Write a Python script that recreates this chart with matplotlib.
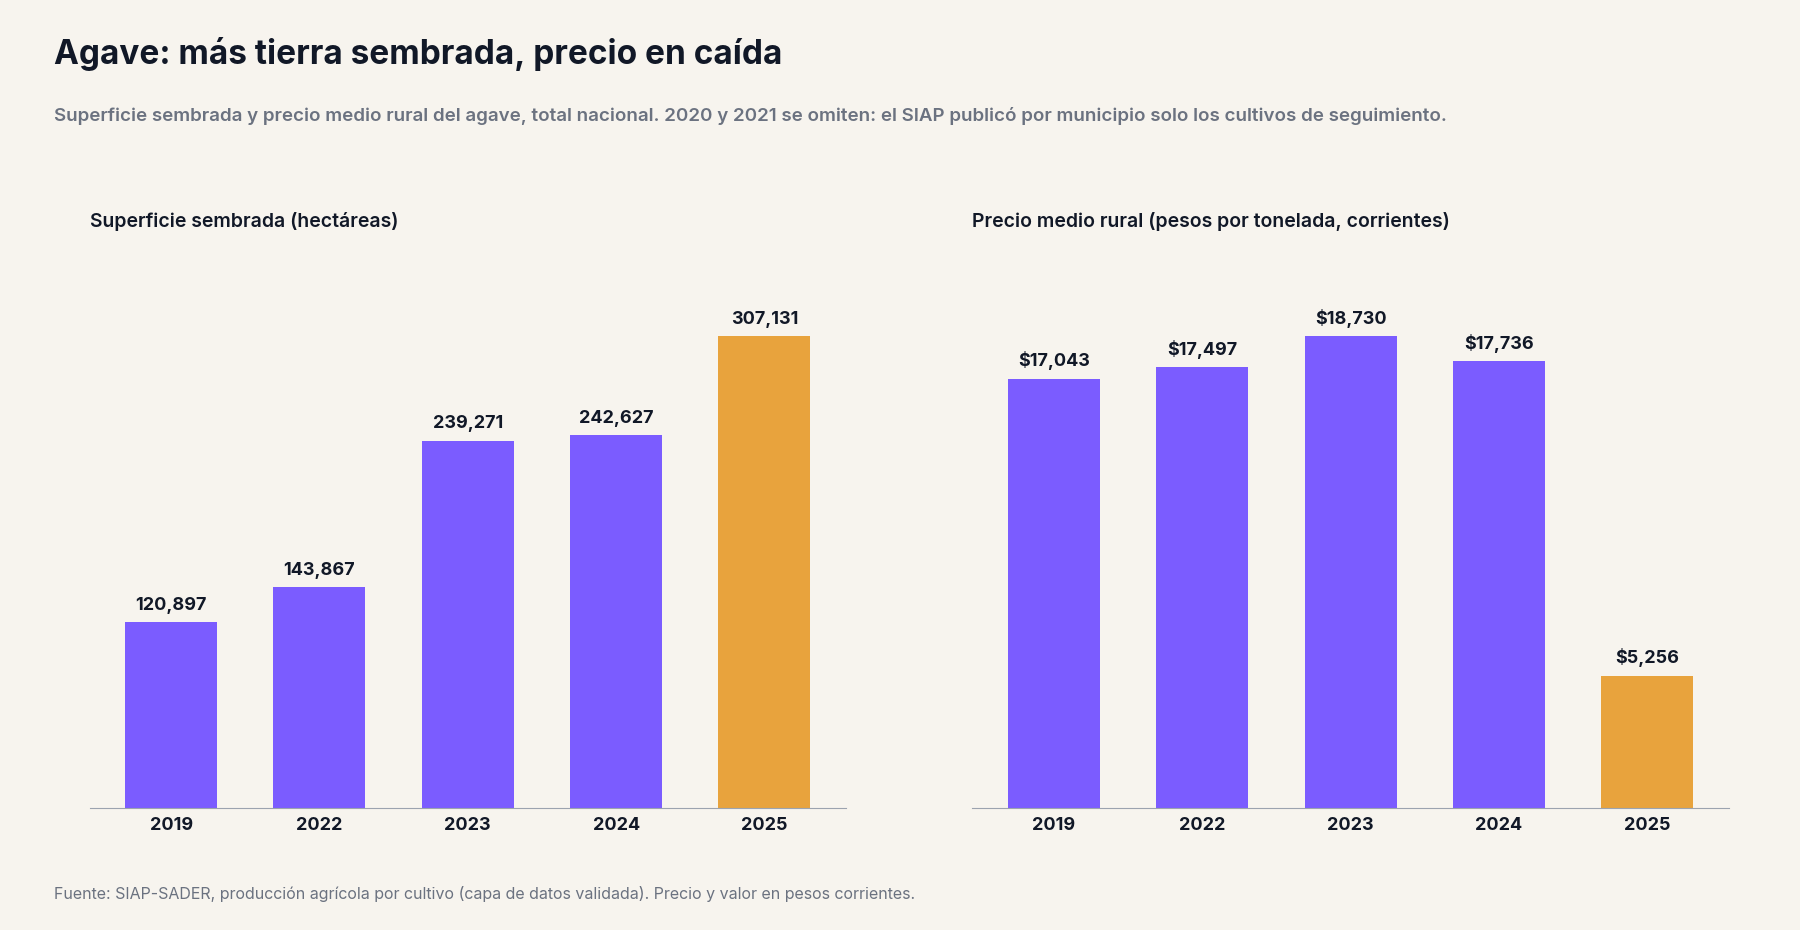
import matplotlib
matplotlib.use("Agg")
import matplotlib.pyplot as plt

years = ["2019", "2022", "2023", "2024", "2025"]
area = [120897, 143867, 239271, 242627, 307131]
price = [17043, 17497, 18730, 17736, 5256]

BG = "#F7F4EE"
PURPLE = "#7B5CFF"
ORANGE = "#E8A33D"
DARK = "#111827"
GRAY = "#6B7280"
plt.rcParams['font.family'] = ['Inter', 'DejaVu Sans']

fig = plt.figure(figsize=(18, 9.3), dpi=100, facecolor=BG)
W, H = 1568, 810
fig.text(47/W, 1-47/H, "Agave: más tierra sembrada, precio en caída", fontsize=24, fontweight="bold", color=DARK, va="center")
fig.text(47/W, 1-101/H, "Superficie sembrada y precio medio rural del agave, total nacional. 2020 y 2021 se omiten: el SIAP publicó por municipio solo los cultivos de seguimiento.",
         fontsize=13.5, color=GRAY, fontweight="semibold", va="center")
fig.text(47/W, 1-779/H, "Fuente: SIAP-SADER, producción agrícola por cultivo (capa de datos validada). Precio y valor en pesos corrientes.",
         fontsize=11.5, color=GRAY, va="center")

panels = [(78, area, "Superficie sembrada (hectáreas)", lambda v: f"{v:,}"),
          (847, price, "Precio medio rural (pesos por tonelada, corrientes)", lambda v: f"${v:,}")]
for left, vals, ttl, fmt in panels:
    ax = fig.add_axes([left/W, 106/H, 659/W, 458/H])
    ax.set_facecolor(BG)
    colors = [PURPLE]*4 + [ORANGE]
    xs = range(len(years))
    ax.bar(xs, vals, width=0.62, color=colors)
    ax.set_xlim(-0.55, 4.55)
    ax.set_ylim(0, max(vals)*1.114)
    for x, v in zip(xs, vals):
        ax.annotate(fmt(v), (x, v), xytext=(0, 6), textcoords="offset points",
                    ha="center", va="bottom", fontsize=13, fontweight="bold", color=DARK)
    ax.set_xticks(list(xs))
    ax.set_xticklabels(years, fontsize=13, fontweight="bold", color=DARK)
    ax.tick_params(axis="x", length=0, pad=6)
    ax.set_yticks([])
    for s in ["top", "right", "left"]:
        ax.spines[s].set_visible(False)
    ax.spines["bottom"].set_color("#9CA3AF")
    fig.text(left/W, 1-193/H, ttl, fontsize=14, fontweight="semibold", color=DARK, va="center")

fig.savefig("out.png", dpi=100, facecolor=BG)
